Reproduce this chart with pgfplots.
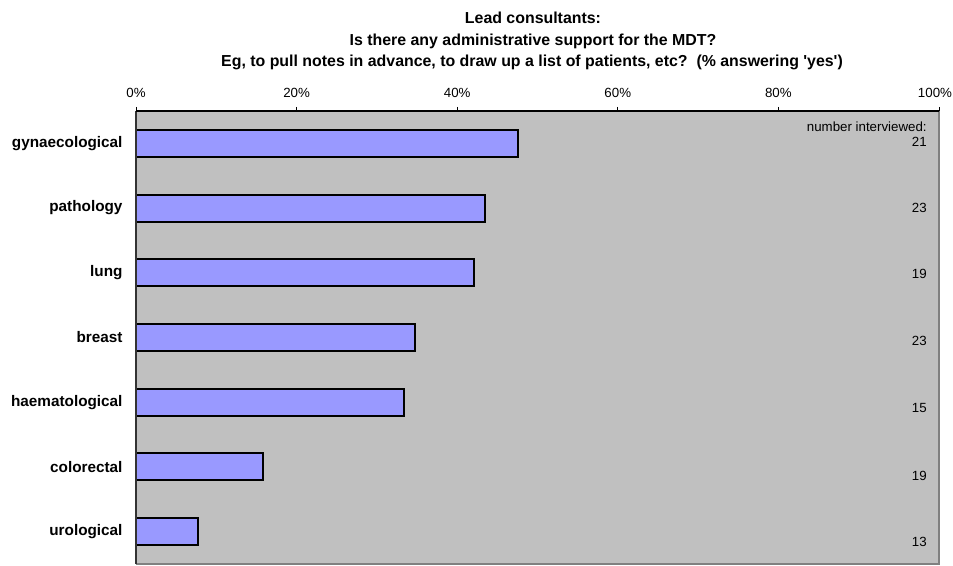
\documentclass[border=0pt]{standalone}
\usepackage{fontspec}
\setmainfont{Liberation Sans}
\newfontfamily\plainfont{Liberation Sans}
\usepackage{pgfplots}
\pgfplotsset{compat=1.18}
\usetikzlibrary{calc}
\definecolor{barblue}{HTML}{9999FF}
\definecolor{plotgray}{HTML}{C0C0C0}
\definecolor{edgegray}{HTML}{808080}
\newcommand{\lblfont}{\fontsize{15.3bp}{18bp}\selectfont\bfseries}
\newcommand{\ttlfont}{\fontsize{15.9bp}{18bp}\selectfont\bfseries}
\newcommand{\smfont}{\fontsize{13.3bp}{16bp}\selectfont}
\begin{document}
\begin{tikzpicture}
\begin{axis}[
  name=ax, at={(0,0)}, anchor=south west,
  scale only axis, width=803bp, height=453bp,
  xbar, bar width=27bp,
  xmin=0, xmax=100, ymin=0.5, ymax=7.5,
  axis background/.style={fill=plotgray},
  axis line style={draw=none},
  xtick={0,20,40,60,80,100},
  xticklabels={0\%,20\%,40\%,60\%,80\%,100\%\hspace*{8bp}},
  xtick pos=upper, xticklabel pos=upper,
  tick align=outside, major tick length=4bp,
  xtick style={black, line width=0.8bp},
  ytick={1,2,3,4,5,6,7},
  yticklabels={urological,colorectal,haematological,breast,lung,pathology,gynaecological},
  ytick style={draw=none},
  yticklabel style={font=\lblfont, xshift=-6bp},
  xticklabel style={font=\smfont, yshift=6bp},
  clip=false,
]
\addplot[fill=barblue, draw=black, line width=2bp] coordinates {
  (47.62,7) (43.48,6) (42.11,5) (34.78,4) (33.33,3) (15.79,2) (7.69,1)
};
\draw[edgegray, line width=2bp] (rel axis cs:1,1) -- (rel axis cs:1,0) -- (rel axis cs:0,0);
\draw[black!80, line width=1.8bp] (rel axis cs:0,0) -- (rel axis cs:0,1);
\draw[black, line width=1.5bp] (rel axis cs:0,1) -- (rel axis cs:1,1);
\node[anchor=east, font=\smfont] at (axis cs:98.9,7.25) {number interviewed:};
\node[anchor=east, font=\smfont] at (axis cs:98.9,7.02) {21};
\node[anchor=east, font=\smfont] at (axis cs:98.9,6.00) {23};
\node[anchor=east, font=\smfont] at (axis cs:98.9,4.98) {19};
\node[anchor=east, font=\smfont] at (axis cs:98.9,3.95) {23};
\node[anchor=east, font=\smfont] at (axis cs:98.9,2.91) {15};
\node[anchor=east, font=\smfont] at (axis cs:98.9,1.86) {19};
\node[anchor=east, font=\smfont] at (axis cs:98.9,0.84) {13};
\end{axis}
\node[anchor=base, font=\ttlfont] at ($(ax.north west)+(397bp,87bp)$) {Lead consultants:};
\node[anchor=base, font=\ttlfont] at ($(ax.north west)+(397bp,65.5bp)$) {Is there any administrative support for the MDT?};
\node[anchor=base, font=\ttlfont] at ($(ax.north west)+(396bp,44bp)$) {\plainfont Eg, to pull notes in advance, to draw up a list of patients, etc?~~(\% answering 'yes')};
\pgfresetboundingbox
\path ($(ax.south west)+(-136bp,-2bp)$) rectangle ++(953bp,566bp);
\end{tikzpicture}
\end{document}
